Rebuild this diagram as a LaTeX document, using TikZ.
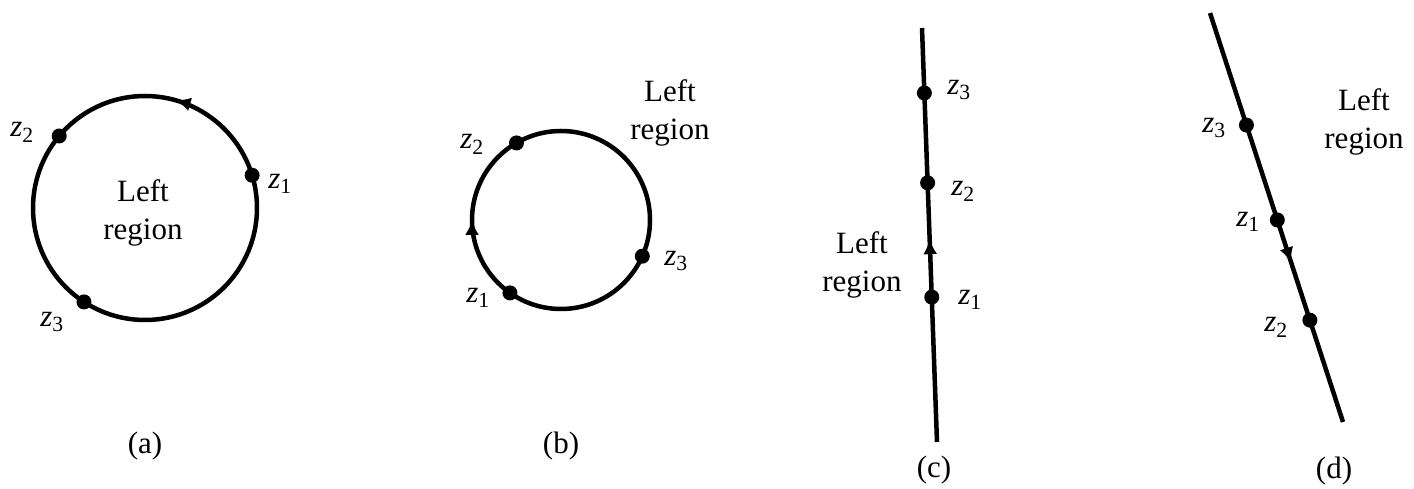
\documentclass[tikz,border=0pt]{standalone}
\usepackage{fontspec}
\setmainfont{Liberation Serif}
\usetikzlibrary{arrows.meta,decorations.markings,calc}
\newcommand\zpt[1]{\textit{z}\textsubscript{#1}}

\begin{document}
\begin{tikzpicture}[
  x=1pt, y=1pt,
  font=\fontsize{31}{38}\selectfont,
  curve/.style={line width=4.5pt},
  dot/.style={circle, fill, inner sep=0pt, minimum size=15pt},
  zlab/.style={inner sep=0pt},
  region/.style={align=center, inner sep=0pt},
  caption/.style={inner sep=0pt},
  fwd/.style={postaction={decorate, decoration={markings,
      mark=at position #1 with {\arrow{Latex[length=15pt,width=14pt]}}}}},
  bwd/.style={postaction={decorate, decoration={markings,
      mark=at position #1 with {\arrowreversed{Latex[length=15pt,width=14pt]}}}}},
]
\useasboundingbox (0,0) rectangle (1414,489);

% (a)
\coordinate (ca) at (145,281);
\draw[curve, fwd=0.206] (ca) circle[radius=112];
\path (ca) ++(17:112) node[dot] (a1) {};
\path (ca) ++(140:112) node[dot] (a2) {};
\path (ca) ++(237:112) node[dot] (a3) {};
\node[zlab] (la1) at (280,305) {\zpt{1}};
\node[zlab] (la2) at (22,357) {\zpt{2}};
\node[zlab] (la3) at (52,167) {\zpt{3}};
\node[region] (ra) at (143,276) {Left\\region};
\node[caption] (capa) at (145,43) {(a)};

% (b)
\coordinate (cb) at (561,269);
\draw[curve, bwd=0.5] (cb) circle[radius=89];
\path (cb) ++(235:89) node[dot] (b1) {};
\path (cb) ++(120:89) node[dot] (b2) {};
\path (cb) ++(-24:89) node[dot] (b3) {};
\node[zlab] (lb1) at (478,191) {\zpt{1}};
\node[zlab] (lb2) at (472,345) {\zpt{2}};
\node[zlab] (lb3) at (676,228) {\zpt{3}};
\node[region] (rb) at (670,376) {Left\\region};
\node[caption] (capb) at (561,43) {(b)};

% (c)
\coordinate (c0) at (937,47);
\coordinate (c9) at (922,461);
\draw[curve, fwd=0.49] (c0) -- (c9);
\node[dot] (c1) at ($(c0)!0.350!(c9)$) {};
\node[dot] (c2) at ($(c0)!0.626!(c9)$) {};
\node[dot] (c3) at ($(c0)!0.843!(c9)$) {};
\node[zlab] (lc1) at (970,189) {\zpt{1}};
\node[zlab] (lc2) at (963,298) {\zpt{2}};
\node[zlab] (lc3) at (959,399) {\zpt{3}};
\node[region] (rc) at (862,224) {Left\\region};
\node[caption] (capc) at (934,19) {(c)};

% (d)
\coordinate (d0) at (1210,476);
\coordinate (d9) at (1343,67);
\draw[curve, fwd=0.61] (d0) -- (d9);
\node[dot] (d3) at ($(d0)!0.274!(d9)$) {};
\node[dot] (d1) at ($(d0)!0.506!(d9)$) {};
\node[dot] (d2) at ($(d0)!0.751!(d9)$) {};
\node[zlab] (ld3) at (1214,361) {\zpt{3}};
\node[zlab] (ld1) at (1248,267) {\zpt{1}};
\node[zlab] (ld2) at (1276,162) {\zpt{2}};
\node[region] (rd) at (1364,367) {Left\\region};
\node[caption] (capd) at (1334,18) {(d)};

\end{tikzpicture}
\end{document}
